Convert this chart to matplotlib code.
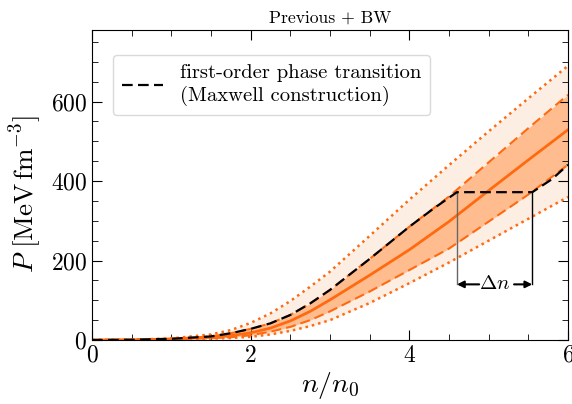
import numpy as np
import matplotlib
matplotlib.use("Agg")
import matplotlib.pyplot as plt
from matplotlib.ticker import MultipleLocator

plt.rcParams["font.family"] = ["cmr10", "DejaVu Serif"]
plt.rcParams["mathtext.fontset"] = "cm"
plt.rcParams["axes.formatter.use_mathtext"] = True
plt.rcParams["axes.unicode_minus"] = False

# density grid n/n0 and pressure bands [MeV fm^-3]
n = [0, 0.5, 1.0, 1.5, 1.75, 2.0, 2.25, 2.5, 2.75, 3.0, 3.5, 4.0, 4.5, 5.0, 5.5, 6.0]
p_mid = [0, 0.5, 2.5, 7, 11, 18, 30, 48, 72, 101, 163, 227, 298, 376, 453, 529]
p_hi68 = [0, 0.6, 3, 9, 17, 28, 42, 63, 92, 126, 204, 285, 361, 447, 533, 617]
p_lo68 = [0, 0.4, 1.5, 4.5, 7, 12, 21, 33, 50, 72, 122, 176, 230, 298, 366, 441]
p_hi95 = [0, 0.8, 4, 14, 25, 43, 67, 98, 134, 172, 262, 353, 440, 525, 608, 690]
p_lo95 = [0, 0.3, 1.2, 3.5, 5, 8, 14, 23, 35, 50, 93, 143, 195, 250, 305, 360]

# first-order phase transition (Maxwell construction)
n_pt = [0, 0.5, 1.0, 1.5, 1.75, 2.0, 2.25, 2.5, 2.75, 3.0, 3.5, 4.0, 4.3, 4.6, 5.55, 5.8, 6.0]
p_pt = [0, 0.6, 3, 9, 17, 28, 42, 63, 92, 126, 204, 285, 330, 372, 372, 405, 441]
n_left, n_right, p_arrow = 4.6, 5.55, 140

orange = "#ff6a10"

fig = plt.figure(figsize=(5.72, 4.04), dpi=100)
ax = fig.add_axes([0.1608, 0.1584, 0.8322, 0.7673])

ax.fill_between(n, p_lo95, p_hi95, color="#fdeee3", lw=0)
ax.fill_between(n, p_lo68, p_hi68, color="#ffbd8f", lw=0)
ax.plot(n, p_hi95, ls=(0, (1, 1.6)), color=orange, lw=1.8)
ax.plot(n, p_lo95, ls=(0, (1, 1.6)), color=orange, lw=1.8)
ax.plot(n, p_hi68, ls=(0, (4.8, 2.4)), color=orange, lw=1.5)
ax.plot(n, p_lo68, ls=(0, (4.8, 2.4)), color=orange, lw=1.5)
ax.plot(n, p_mid, color=orange, lw=2)
ax.plot(n_pt, p_pt, ls=(0, (4.8, 2.4)), color="k", lw=1.6, zorder=5,
        label="first-order phase transition\n(Maxwell construction)")

# Delta n marker
ax.plot([n_left, n_left], [p_pt[13], p_arrow], color="0.4", lw=1, zorder=4)
ax.plot([n_right, n_right], [p_pt[14], p_arrow], color="k", lw=1, zorder=4)
ax.annotate("", xy=(n_left, p_arrow), xytext=(4.88, p_arrow),
            arrowprops=dict(arrowstyle="-|>", color="k", lw=1.5, shrinkA=0, shrinkB=0))
ax.annotate("", xy=(n_right, p_arrow), xytext=(5.32, p_arrow),
            arrowprops=dict(arrowstyle="-|>", color="k", lw=1.5, shrinkA=0, shrinkB=0))
ax.text((n_left + n_right) / 2, p_arrow, r"$\Delta n$", ha="center", va="center", fontsize=15)

ax.set_xlim(0, 6)
ax.set_ylim(0, 780)
ax.xaxis.set_major_locator(MultipleLocator(2))
ax.xaxis.set_minor_locator(MultipleLocator(0.5))
ax.yaxis.set_major_locator(MultipleLocator(200))
ax.yaxis.set_minor_locator(MultipleLocator(50))
ax.tick_params(which="both", direction="in", top=True, right=True, labelsize=17)
ax.tick_params(which="major", length=7)
ax.tick_params(which="minor", length=4)

ax.set_xlabel(r"$n/n_0$", fontsize=20, labelpad=2)
ax.set_ylabel(r"$P\ [\mathrm{MeV\,fm^{-3}}]$", fontsize=19.5)
ax.yaxis.set_label_coords(-0.1, 0.473)
ax.set_title("Previous + BW", fontsize=12.7, pad=5)

ax.legend(loc="upper left", bbox_to_anchor=(0.044, 0.919), borderaxespad=0,
          fontsize=14.8, handlelength=2.0, framealpha=1, edgecolor="0.85",
          labelspacing=0.15, borderpad=0.45, handletextpad=0.8)

fig.savefig("out.png", dpi=100)
